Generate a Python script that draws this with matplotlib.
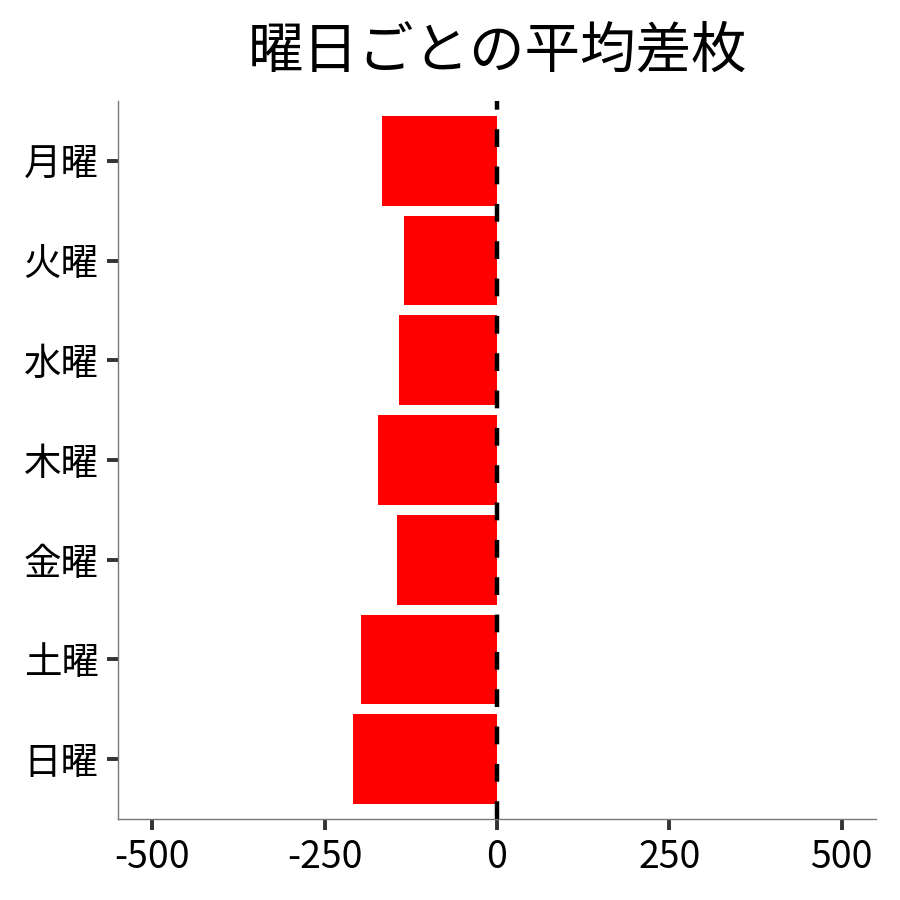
import matplotlib
matplotlib.use("Agg")
import matplotlib.pyplot as plt

plt.rcParams['font.family'] = ['Noto Sans CJK JP', 'DejaVu Sans']

days = ["月曜", "火曜", "水曜", "木曜", "金曜", "土曜", "日曜"]
avg_diff = [-167, -135, -142, -173, -145, -198, -209]
x_ticks = [-500, -250, 0, 250, 500]
title = "曜日ごとの平均差枚"

fig = plt.figure(figsize=(9, 9), dpi=100)
ax = fig.add_axes([118/900, 1-819/900, (876-118)/900, (819-101)/900])

n = len(days)
ypos = [n - i for i in range(n)]
ax.barh(ypos, avg_diff, height=0.9, color="#FF0000", zorder=2)
ax.axvline(0, color="black", lw=3.2, linestyle=(0, (4, 4.4)), zorder=3)

ax.set_xlim(-550, 550)
ax.set_ylim(0.4, n + 0.6)
ax.set_yticks(ypos)
ax.set_yticklabels(days)
ax.set_xticks(x_ticks)
ax.set_xticklabels([str(v) for v in x_ticks])

for s in ["top", "right"]:
    ax.spines[s].set_visible(False)
for s in ["left", "bottom"]:
    ax.spines[s].set_color("#777777")
    ax.spines[s].set_linewidth(1.0)

ax.tick_params(axis="both", colors="#333333", width=2.8, length=8, labelsize=27, labelcolor="black", pad=6)
ax.set_title(title, fontsize=40, pad=24)

fig.savefig("out.png", dpi=100, facecolor="white")
